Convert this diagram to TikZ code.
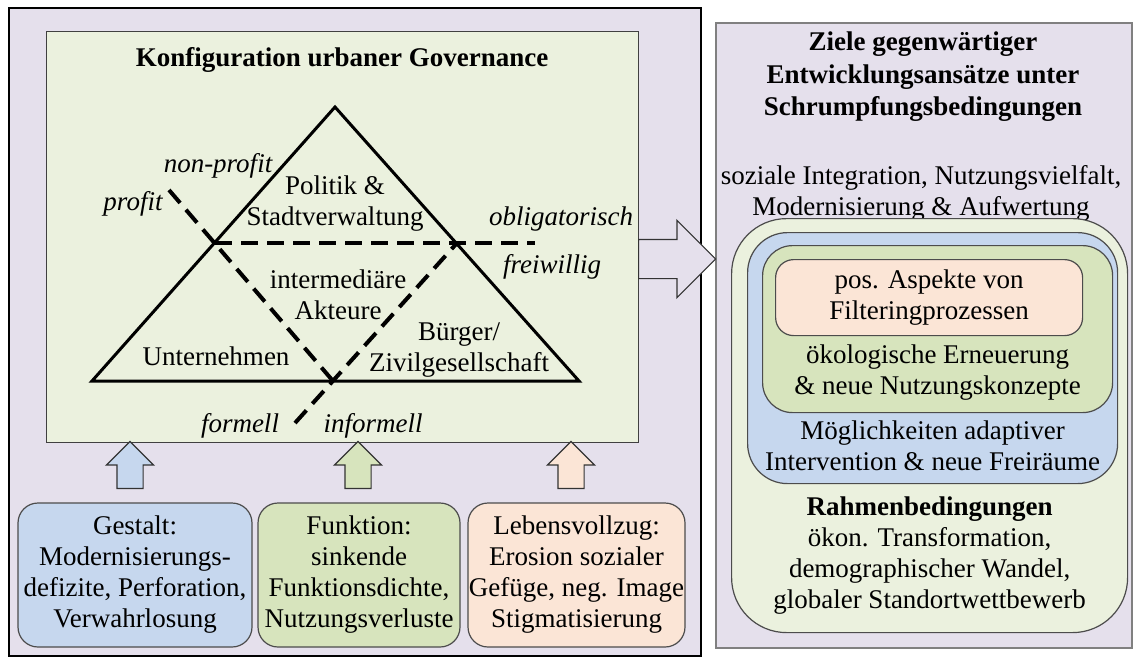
\documentclass[tikz,border=0pt]{standalone}
\usepackage{fontspec}
\setmainfont{Liberation Serif}
\usetikzlibrary{arrows.meta,positioning,calc,shapes.arrows}
\definecolor{panelLav}{HTML}{E5E0EC}
\definecolor{frameOlive}{HTML}{EBF1DE}
\definecolor{formBlue}{HTML}{C6D7EE}
\definecolor{funcGreen}{HTML}{D7E4BD}
\definecolor{lifePeach}{HTML}{FBE5D6}
\tikzset{
  panel box/.style={draw=black,line width=1.5pt,fill=panelLav,inner sep=0pt,
    anchor=north west},
  frame box/.style={draw=black!75,line width=1.3pt,fill=frameOlive,inner sep=0pt,
    anchor=north west},
  cause box/.style={rounded corners=20pt,draw=black!70,line width=1.2pt,
    inner sep=0pt,align=center,minimum height=144pt},
  ring box/.style={draw=black!70,line width=1.2pt,inner sep=0pt,anchor=north west},
  up arrow/.style={single arrow,shape border rotate=90,draw=black!80,
    line width=1.2pt,inner xsep=12.5pt,inner ysep=0pt,minimum height=47pt,
    single arrow head extend=10.5pt},
  split line/.style={line width=4pt,dash pattern=on 17pt off 9pt},
  axis label/.style={font=\itshape,anchor=base},
  actor label/.style={align=center,inner sep=0pt}
}
\begin{document}
\fontsize{27}{31}\selectfont
\begin{tikzpicture}[x=1pt,y=-1pt]
  \useasboundingbox (0,0) rectangle (1134,657);
  \fill[white] (0,0) rectangle (1134,657);
  % Governance-Seite
  \node[panel box,minimum width=692pt,minimum height=648pt] (left) at (8,7) {};
  \node[frame box,minimum width=592pt,minimum height=411pt] (config) at (46,31) {};
  \node[anchor=base,font=\bfseries] (configtitle) at (342,66)
    {Konfiguration urbaner Governance};
  \coordinate (apex) at (335,107);
  \coordinate (leftc) at (92,381);
  \coordinate (rightc) at (579,381);
  \draw[line width=3pt] (leftc) -- (apex) -- (rightc) -- cycle;
  \coordinate (profitA) at (169,190);
  \coordinate (profitB) at (333,381);
  \coordinate (formA) at (295,423);
  \coordinate (formB) at (457,243);
  \coordinate (obligA) at (215,243);
  \coordinate (obligB) at (535,243);
  \draw[split line] (profitA) -- (profitB);
  \draw[split line] (formA) -- (formB);
  \draw[split line] (obligA) -- (obligB);
  \node[actor label] (politik) at (335,204) {Politik \&\\Stadtverwaltung};
  \node[actor label] (intermed) at (338,295) {intermediäre\\Akteure};
  \node[anchor=base] (unternehmen) at (216,365) {Unternehmen};
  \node[actor label] (buerger) at (459,350) {Bürger/\\Zivilgesellschaft};
  \node[axis label] (nonprofit) at (218,172) {non-profit};
  \node[axis label] (profit) at (133,210) {profit};
  \node[axis label] (oblig) at (561,225) {obligatorisch};
  \node[axis label] (freiw) at (552,273) {freiwillig};
  \node[axis label] (formell) at (240,432) {formell};
  \node[axis label] (informell) at (373,432) {informell};
  % Einflussfaktoren
  \node[up arrow,fill=formBlue] (gestaltup) at (130,471.5) {};
  \node[up arrow,fill=funcGreen] (funktionup) at (358,471.5) {};
  \node[up arrow,fill=lifePeach] (lebenup) at (571,471.5) {};
  \node[cause box,fill=formBlue,minimum width=234pt] (gestalt) at (135,575)
    {Gestalt:\\Modernisierungs-\\defizite, Perforation,\\Verwahrlosung};
  \node[cause box,fill=funcGreen,minimum width=202pt] (funktion) at (359,575)
    {Funktion:\\sinkende\\Funktionsdichte,\\Nutzungsverluste};
  \node[cause box,fill=lifePeach,minimum width=217pt] (leben) at (576.5,575)
    {Lebensvollzug:\\Erosion sozialer\\Gefüge, neg. Image\\Stigmatisierung};
  % Ziele-Seite
  \node[panel box,draw=black!50,minimum width=416pt,minimum height=625pt] (right)
    at (715,22) {};
  \node[actor label,font=\bfseries] (goaltitle) at (923,77)
    {Ziele gegenwärtiger\\[1.5pt]Entwicklungsansätze unter\\[1.5pt]Schrumpfungsbedingungen};
  \node[actor label] (goaltext) at (921,193)
    {soziale Integration, Nutzungsvielfalt,\\Modernisierung \& Aufwertung};
  \node[ring box,fill=frameOlive,rounded corners=55pt,minimum width=396pt,
    minimum height=414pt] (rahmen) at (731,218) {};
  \node[ring box,fill=formBlue,rounded corners=40pt,minimum width=370pt,
    minimum height=251pt] (chancen) at (747,232) {};
  \node[ring box,fill=funcGreen,rounded corners=30pt,minimum width=350pt,
    minimum height=167pt] (oeko) at (762,245) {};
  \node[ring box,fill=lifePeach,rounded corners=18pt,minimum width=307pt,
    minimum height=76pt,align=center] (filter) at (775,259)
    {pos. Aspekte von\\Filteringprozessen};
  \node[actor label,anchor=north] (oekotext) at ($(oeko.center |- filter.south)+(0,8)$)
    {ökologische Erneuerung\\\& neue Nutzungskonzepte};
  \node[actor label,anchor=north] (chancentext) at ($(chancen.center |- oeko.south)+(0,7)$)
    {Möglichkeiten adaptiver\\Intervention \& neue Freiräume};
  \node[actor label,anchor=north] (rahmentext) at ($(rahmen.center |- chancen.south)+(0,12)$)
    {\textbf{Rahmenbedingungen}\\ökon. Transformation,\\demographischer Wandel,\\globaler Standortwettbewerb};
  \node[single arrow,draw=black!80,line width=1.2pt,fill=panelLav,inner xsep=0pt,
    inner ysep=19pt,minimum height=77pt,single arrow head extend=19pt,
    anchor=tail] (toright) at (638,259) {};
\end{tikzpicture}
\end{document}
